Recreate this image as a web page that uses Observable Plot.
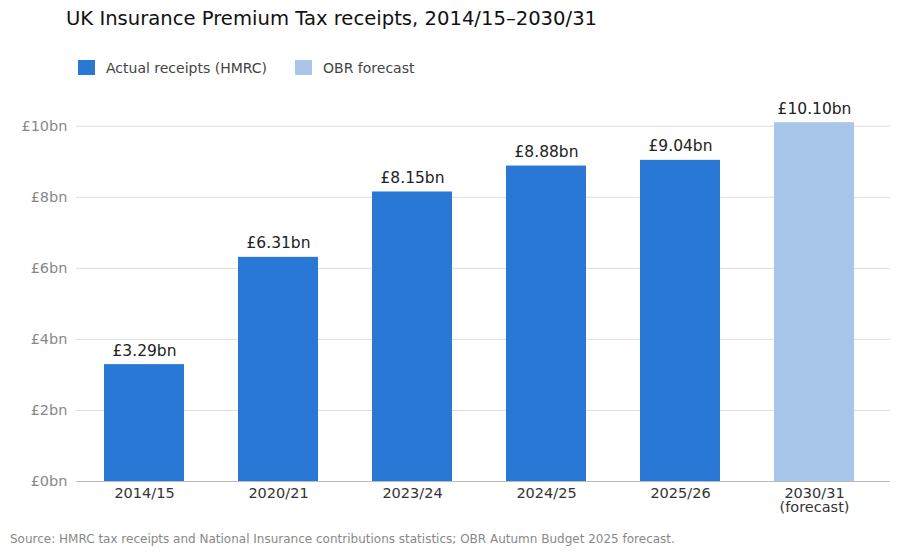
<!DOCTYPE html>
<html><head><meta charset="utf-8">
<script src="https://cdn.jsdelivr.net/npm/d3@7"></script>
<script src="https://cdn.jsdelivr.net/npm/@observablehq/plot@0.6"></script>
<style>
body{margin:0;background:#fff;font-family:"DejaVu Sans",sans-serif;width:903px;height:556px;overflow:hidden;position:relative}
#title{position:absolute;left:66px;top:7px;font-size:19.6px;color:#111}
#legend{position:absolute;left:78px;top:60px;font-size:14px;color:#444;display:flex;gap:28px}
#legend span.sw{display:inline-block;width:17px;height:15px;vertical-align:-2px;margin-right:11px}
#chart{position:absolute;left:0;top:95px}
#caption{position:absolute;left:10px;top:532px;font-size:12px;color:#888}
</style></head><body>
<div id="title">UK Insurance Premium Tax receipts, 2014/15–2030/31</div>
<div id="legend"><div><span class="sw" style="background:#2a78d6"></span>Actual receipts (HMRC)</div><div><span class="sw" style="background:#a8c5ea"></span>OBR forecast</div></div>
<div id="chart"></div>
<div id="caption">Source: HMRC tax receipts and National Insurance contributions statistics; OBR Autumn Budget 2025 forecast.</div>
<script>
const years=["2014/15","2020/21","2023/24","2024/25","2025/26","2030/31"];
const tickLabels=["2014/15","2020/21","2023/24","2024/25","2025/26","2030/31\n(forecast)"];
const values=[3.29,6.31,8.15,8.88,9.04,10.10];
const kinds=["Actual","Actual","Actual","Actual","Actual","Forecast"];
const data=years.map((y,i)=>({year:y,value:values[i],kind:kinds[i]}));
const chart=Plot.plot({
  width:903,height:430,marginLeft:76,marginRight:21,marginTop:13,marginBottom:44,
  style:{fontFamily:"DejaVu Sans",fontSize:"14.5px"},
  x:{domain:years,paddingInner:0.4,paddingOuter:0.2,label:null,tickSize:0,tickPadding:6,tickFormat:(d,i)=>tickLabels[i]},
  y:{domain:[0,10.5],ticks:[0,2,4,6,8,10],tickFormat:d=>`£${d}bn`,label:null,tickSize:0,grid:true},
  color:{domain:["Actual","Forecast"],range:["#2a78d6","#a8c5ea"]},
  marks:[
    Plot.barY(data,{x:"year",y:"value",fill:"kind"}),
    Plot.ruleY([0],{stroke:"#bbb"}),
    Plot.text(data,{x:"year",y:"value",text:d=>`£${d.value.toFixed(2)}bn`,dy:-14,fontSize:15.5,fill:"#222"})
  ]
});
chart.querySelectorAll("[aria-label='y-axis tick label'] text").forEach(t=>t.setAttribute("fill","#888"));
chart.querySelectorAll("[aria-label='x-axis tick label'] text").forEach(t=>t.setAttribute("fill","#333"));
chart.querySelectorAll("[aria-label='y-grid'] line, [aria-label='rule'] line").forEach(l=>{
  if(l.closest("[aria-label='y-grid']")){l.setAttribute("stroke","#ddd");l.setAttribute("stroke-opacity","1");}
  l.setAttribute("x2",890);
});
document.getElementById("chart").appendChild(chart);
</script></body></html>
